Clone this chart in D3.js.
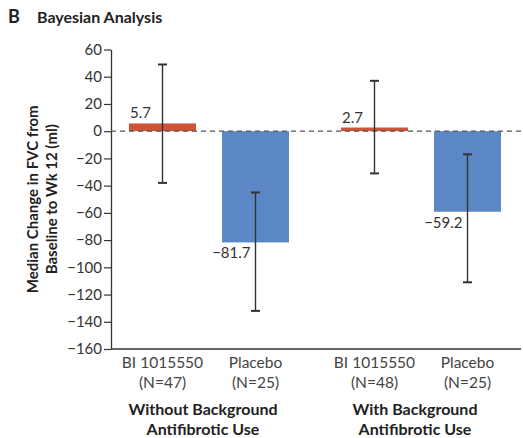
<!DOCTYPE html>
<html>
<head>
<meta charset="utf-8">
<script src="https://cdn.jsdelivr.net/npm/d3@7"></script>
<style>
  body { margin: 0; background: #fff; }
  svg { font-family: Lato, "Open Sans", sans-serif; }
</style>
</head>
<body>
<div id="chart"></div>
<script>
// data
const groups = ['Without Background|Antifibrotic Use', 'With Background|Antifibrotic Use'];
const treatments = ['BI 1015550', 'Placebo'];
const nLabels = [['(N=47)', '(N=25)'], ['(N=48)', '(N=25)']];
const medians = [[5.7, -81.7], [2.7, -59.2]];
const lower = [[-38, -132], [-31, -111]];
const upper = [[49, -45], [37, -17]];
const yTicks = [60, 40, 20, 0, -20, -40, -60, -80, -100, -120, -140, -160];

const width = 523, height = 438;
const colors = { 'BI 1015550': '#cd563a', 'Placebo': '#5b87c5' };

const svg = d3.select('#chart').append('svg')
  .attr('width', width)
  .attr('height', height);

// scales
const x0 = d3.scaleBand().domain(groups).range([102, 526]);
const x1 = d3.scaleBand().domain(treatments).range([27, 187]).paddingInner(0.28);
const y = d3.scaleLinear().domain([-160, 60]).range([349, 49.5]);

const fmt = v => (v < 0 ? '\u2212' : '') + Math.abs(v).toFixed(1);

// title
svg.append('text').attr('x', 8).attr('y', 23)
  .attr('font-size', 18).attr('font-weight', 700).attr('fill', '#222').text('B');
svg.append('text').attr('x', 37).attr('y', 23)
  .attr('font-size', 16).attr('font-weight', 700).attr('fill', '#222').text('Bayesian Analysis');

// y axis
const yAxis = svg.append('g')
  .attr('transform', 'translate(111,0)')
  .call(d3.axisLeft(y).tickValues(yTicks).tickSize(7).tickSizeOuter(0).tickPadding(2)
    .tickFormat(d => (d < 0 ? '\u2212' : '') + Math.abs(d)));
yAxis.select('.domain').attr('stroke', '#333').attr('stroke-width', 1.3);
yAxis.selectAll('.tick line').attr('stroke', '#333').attr('stroke-width', 1.2);
yAxis.selectAll('.tick text').attr('font-size', 15).attr('fill', '#333').attr('font-family', 'Lato, sans-serif');

// x axis line
svg.append('line')
  .attr('x1', 111).attr('x2', 521)
  .attr('y1', y(-160)).attr('y2', y(-160))
  .attr('stroke', '#333').attr('stroke-width', 1.3);

// y label
const yl = svg.append('text')
  .attr('transform', `translate(38,${(y(60) + y(-160)) / 2}) rotate(-90)`)
  .attr('text-anchor', 'middle')
  .attr('font-size', 15).attr('font-weight', 700).attr('fill', '#222');
yl.append('tspan').attr('x', 0).attr('dy', 0).text('Median Change in FVC from');
yl.append('tspan').attr('x', 0).attr('dy', 19).text('Baseline to Wk 12 (ml)');

// bars
groups.forEach((g, gi) => {
  const gx = x0(g);
  treatments.forEach((t, ti) => {
    const v = medians[gi][ti];
    const bx = gx + x1(t);
    const cx = bx + x1.bandwidth() / 2;
    svg.append('rect')
      .attr('x', bx).attr('width', x1.bandwidth())
      .attr('y', y(Math.max(0, v)))
      .attr('height', Math.abs(y(v) - y(0)))
      .attr('fill', colors[t]);

    // value label
    if (v >= 0) {
      svg.append('text').attr('x', bx + 1).attr('y', y(v) - 5)
        .attr('font-size', 15).attr('fill', '#333').text(fmt(v));
    } else {
      svg.append('text').attr('x', cx - 5).attr('y', y(v) + 16)
        .attr('text-anchor', 'end')
        .attr('font-size', 15).attr('fill', '#333').text(fmt(v));
    }

    // x labels
    svg.append('text').attr('x', cx).attr('y', 368)
      .attr('text-anchor', 'middle').attr('font-size', 15.5).attr('fill', '#444').text(t);
    svg.append('text').attr('x', cx).attr('y', 388)
      .attr('text-anchor', 'middle').attr('font-size', 15.5).attr('fill', '#444').text(nLabels[gi][ti]);
  });

  // group label
  const gl = svg.append('text')
    .attr('x', gx + x0.bandwidth() / 2 - 5).attr('y', 415)
    .attr('text-anchor', 'middle').attr('font-size', 16).attr('font-weight', 700).attr('fill', '#222');
  g.split('|').forEach((s, i) => {
    gl.append('tspan').attr('x', gx + x0.bandwidth() / 2 - 5).attr('dy', i ? 20 : 0).text(s);
  });
});

// zero reference line
svg.append('line')
  .attr('x1', 111).attr('x2', 521)
  .attr('y1', y(0)).attr('y2', y(0))
  .attr('stroke', '#555').attr('stroke-width', 1.3)
  .attr('stroke-dasharray', '5,4');

// error bars
groups.forEach((g, gi) => {
  treatments.forEach((t, ti) => {
    const cx = x0(g) + x1(t) + x1.bandwidth() / 2;
    const eg = svg.append('g').attr('stroke', '#333').attr('stroke-width', 1.4);
    eg.append('line').attr('x1', cx).attr('x2', cx)
      .attr('y1', y(upper[gi][ti])).attr('y2', y(lower[gi][ti]));
    [upper[gi][ti], lower[gi][ti]].forEach(v => {
      eg.append('line').attr('x1', cx - 4.5).attr('x2', cx + 4.5)
        .attr('y1', y(v)).attr('y2', y(v)).attr('stroke-width', 2);
    });
  });
});
</script>
</body>
</html>
